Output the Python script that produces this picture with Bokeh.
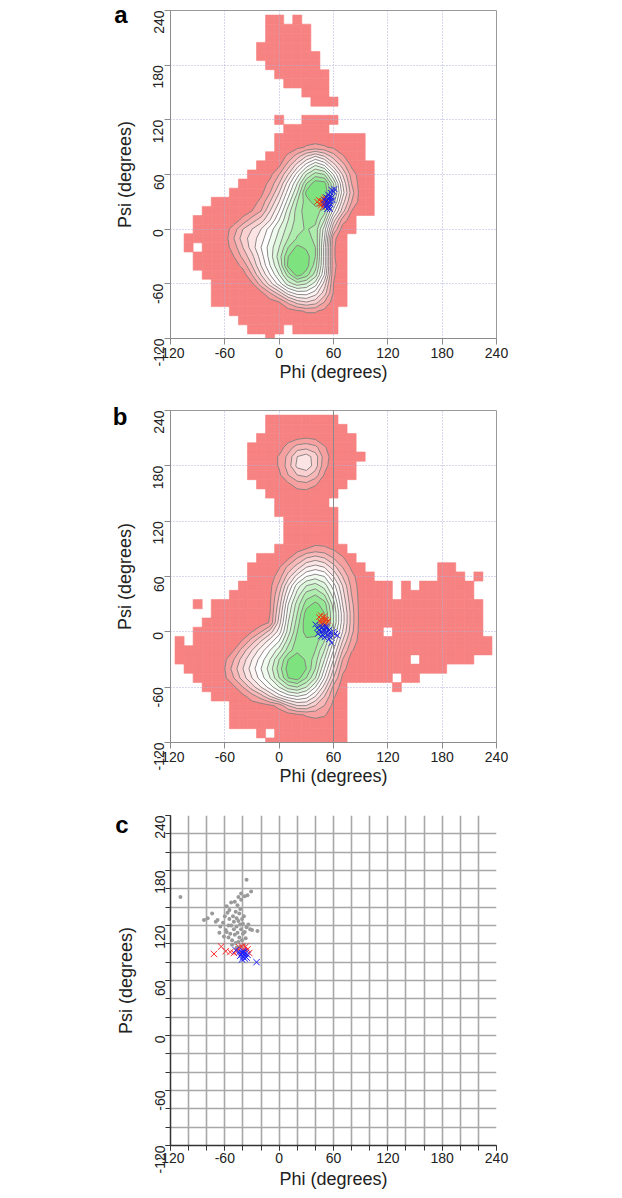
import math
import numpy as np
from bokeh.plotting import figure
from bokeh.models import FixedTicker, Span, LinearAxis, Range1d
from bokeh.layouts import column
from bokeh.embed import file_html
from bokeh.resources import INLINE

FONT = "Liberation Sans"
TICKS = [-120, -60, 0, 60, 120, 180, 240]
TICK_LABELS = {-120: "-120", -60: "-60", 0: "0", 60: "60", 120: "120", 180: "180", 240: "240"}
TICKS_20 = [-120, -100, -80, -60, -40, -20, 0, 20, 40, 60, 80, 100, 120, 140, 160, 180, 200, 220, 240]

RED_CELL = "#f78282"
BAND_COLORS = ["#f6a0a0", "#f8b8b8", "#fad0d0", "#fce4e4", "#fef4f4", "#ffffff",
               "#eefbee", "#dcf7dc", "#c6f2c6", "#aeedae", "#96e896", "#7ee27e"]
LEVELS = [0.5, 1.5, 2.5, 3.5, 4.5, 5.5, 6.5, 7.5, 8.5, 9.5, 10.5, 11.5, 20]

# ---- occupied 10-degree bins: (psi, phi_from, phi_to) ----
RUNS_A = [
    (230, -10, 0), (230, 20, 20),
    (220, -10, 30), (210, -10, 30), (200, -20, 30), (190, -20, 40),
    (180, -10, 40), (170, 0, 50), (160, 10, 50), (150, 30, 50), (140, 40, 60),
    (120, 0, 0), (120, 30, 60),
    (110, 10, 50), (100, 0, 90), (90, 0, 90), (80, -10, 90),
    (70, -20, 100), (60, -30, 100), (50, -40, 100), (40, -50, 100),
    (30, -70, 100), (20, -80, 100), (10, -90, 80), (0, -90, 80),
    (-10, -100, 70), (-20, -100, -100), (-20, -80, 70),
    (-30, -90, 70), (-40, -90, 70), (-50, -80, 70),
    (-60, -70, 70), (-70, -70, 70), (-80, -70, 70),
    (-90, -50, 60), (-100, -40, 60),
    (-110, -30, 0), (-110, 20, 60), (-120, -10, -10),
]

RUNS_B = [
    (230, -10, 60), (220, -10, 70), (210, -20, 80), (200, -30, 80),
    (190, -30, 90), (180, -30, 80), (170, -30, 80), (160, -20, 70),
    (150, -10, 60), (140, 0, 50), (130, 0, 60), (120, 10, 60),
    (110, 10, 60), (100, 10, 60), (90, 0, 70), (80, -20, 80),
    (70, -30, 90), (70, 180, 190),
    (60, -30, 100), (60, 180, 200), (60, 220, 220),
    (50, -40, 120), (50, 140, 140), (50, 160, 210),
    (40, -50, 120), (40, 140, 210),
    (30, -90, -90), (30, -70, 220),
    (20, -70, 220), (10, -80, 220),
    (0, -90, 110), (0, 130, 220),
    (-10, -110, -110), (-10, -90, 230),
    (-20, -110, 230),
    (-30, -110, 140), (-30, 160, 210),
    (-40, -100, 180),
    (-50, -90, 120), (-50, 140, 150),
    (-60, -80, 70), (-60, 130, 130),
    (-70, -70, 70), (-80, -50, 70), (-90, -50, 70), (-100, -50, 70),
    (-110, -20, -20), (-110, 0, 70), (-120, -10, 70),
]

# ---- density level grids (phi columns -70..100, psi rows 100..-100) ----
PHI_GRID = [-70, -60, -50, -40, -30, -20, -10, 0, 10, 20, 30, 40, 50, 60, 70, 80, 90, 100]
PSI_GRID = [100, 90, 80, 70, 60, 50, 40, 30, 20, 10, 0, -10, -20, -30, -40, -50, -60, -70, -80, -90, -100]

Z_A = [
    [0, 0, 0, 0, 0, 0, 0, 0, 0, 0, 0, 0, 0, 0, 0, 0, 0, 0],
    [0, 0, 0, 0, 0, 0, 0, 0, 0, 0.2, 0.6, 0.8, 0.6, 0.3, 0, 0, 0, 0],
    [0, 0, 0, 0, 0, 0, 0, 0, 0.7, 2, 3.5, 4.5, 3.5, 2, 0.6, 0, 0, 0],
    [0, 0, 0, 0, 0, 0, 0, 0.3, 2, 4, 6, 7.5, 6.5, 4, 2, 0.3, 0, 0],
    [0, 0, 0, 0, 0, 0, 0.2, 1.5, 3.5, 6, 8.5, 10, 9.5, 6.5, 3.5, 1, 0, 0],
    [0, 0, 0, 0, 0, 0, 0.8, 2.5, 5, 7.5, 10.5, 12.2, 12, 8.5, 4.5, 1.5, 0, 0],
    [0, 0, 0, 0, 0, 0.2, 1.5, 3.5, 6, 8.5, 11.8, 13, 12.5, 9, 5, 2, 0, 0],
    [0, 0, 0, 0, 0, 0.8, 2.5, 4.5, 7, 9.5, 11, 12, 12, 8, 4, 1.5, 0, 0],
    [0, 0, 0, 0, 0.5, 1.5, 3.5, 5.5, 8, 10, 11, 11, 10, 6, 3, 0.5, 0, 0],
    [0, 0, 0, 0.8, 2, 3, 4.5, 6.5, 8.5, 10, 10.8, 10.8, 8.5, 4, 1, 0, 0, 0],
    [0, 0, 1, 2.5, 3.5, 4.5, 6, 7.5, 9, 10.2, 10.6, 10.2, 7, 2.5, 0, 0, 0, 0],
    [0, 0, 1.5, 3, 4, 5, 6.5, 8, 9.5, 10.6, 10.8, 10.3, 6.5, 0.7, 0, 0, 0, 0],
    [0, 0, 1, 2.5, 4, 5.5, 7, 8.5, 10.5, 11.8, 11.3, 10.5, 6, 0.6, 0, 0, 0, 0],
    [0, 0, 0.5, 1.8, 3.2, 5, 7, 9, 11.5, 13, 12, 10.5, 6, 0.6, 0, 0, 0, 0],
    [0, 0, 0, 0.8, 2.5, 4.5, 6.5, 8.5, 11.8, 13, 12, 10, 6, 0.7, 0, 0, 0, 0],
    [0, 0, 0, 0, 1.5, 3.5, 5.5, 7.5, 10, 12, 11, 9, 5.5, 0.6, 0, 0, 0, 0],
    [0, 0, 0, 0, 0.3, 2, 4, 6, 8, 9, 8.5, 7, 4, 0.5, 0, 0, 0, 0],
    [0, 0, 0, 0, 0, 0.2, 1.5, 3, 5, 6, 6, 5, 3, 0.4, 0, 0, 0, 0],
    [0, 0, 0, 0, 0, 0, 0, 0.5, 1.8, 3, 3.5, 3, 1.5, 0, 0, 0, 0, 0],
    [0, 0, 0, 0, 0, 0, 0, 0, 0, 0.3, 0.6, 0.6, 0.2, 0, 0, 0, 0, 0],
    [0, 0, 0, 0, 0, 0, 0, 0, 0, 0, 0, 0, 0, 0, 0, 0, 0, 0],
]

Z_B = [
    [0, 0, 0, 0, 0, 0, 0, 0, 0, 0, 0, 0, 0, 0, 0, 0, 0, 0],
    [0, 0, 0, 0, 0, 0, 0, 0, 0, 0, 0.5, 0.8, 0.7, 0.4, 0, 0, 0, 0],
    [0, 0, 0, 0, 0, 0, 0, 0, 0.3, 1.5, 2.5, 3, 2.5, 1.5, 0.6, 0, 0, 0],
    [0, 0, 0, 0, 0, 0, 0, 0.4, 1.8, 3, 4.5, 5, 4.5, 3, 1.5, 0.3, 0, 0],
    [0, 0, 0, 0, 0, 0, 0, 1, 3, 5, 6.5, 7, 6.5, 4.5, 2.5, 0.8, 0, 0],
    [0, 0, 0, 0, 0, 0, 0.2, 1.8, 4.5, 7, 8.5, 9, 8, 6, 3.5, 1.2, 0, 0],
    [0, 0, 0, 0, 0, 0, 0.3, 2.5, 5.5, 8, 10, 10.5, 9.5, 7, 4, 1.5, 0, 0],
    [0, 0, 0, 0, 0, 0, 0.4, 3, 6.5, 9, 11, 11.8, 11, 8, 4.5, 1.8, 0, 0],
    [0, 0, 0, 0, 0, 0, 0.5, 3.5, 7, 9.5, 12, 12.5, 11.5, 8.5, 5, 2, 0, 0],
    [0, 0, 0, 0, 0, 0, 0.6, 4, 7.5, 10, 12.3, 12.8, 11.5, 8.5, 5, 2, 0, 0],
    [0, 0, 0, 0, 0.5, 1.5, 3, 5, 8, 10.5, 12, 12, 10.5, 7.5, 4.5, 1.8, 0, 0],
    [0, 0, 0, 0.6, 2, 3.5, 5, 6.5, 9, 11, 11.2, 11, 9.5, 6.5, 3.5, 1.2, 0, 0],
    [0, 0, 0.5, 2, 3.5, 5, 6.5, 8, 10, 11.2, 11.2, 10.5, 8.5, 5.5, 2.5, 0.6, 0, 0],
    [0, 0.3, 1.5, 3, 4.5, 6, 7.5, 9.5, 11.5, 12.3, 11.3, 10, 7.5, 4.5, 1.5, 0, 0, 0],
    [0, 0.5, 2, 3.5, 5, 6.5, 8, 10, 12, 12.5, 11.5, 9.5, 6.5, 3.5, 0.8, 0, 0, 0],
    [0, 0.3, 1.5, 3, 4.5, 6, 7.5, 9.5, 11.5, 12, 10.5, 8.5, 5.5, 2.5, 0.3, 0, 0, 0],
    [0, 0, 0.3, 1.5, 3, 4.5, 6, 7.5, 9, 9.5, 8.5, 6.5, 4, 1.2, 0, 0, 0, 0],
    [0, 0, 0, 0.2, 1, 2, 3.5, 5, 6, 6.5, 6, 4.5, 2.5, 0.6, 0, 0, 0, 0],
    [0, 0, 0, 0, 0, 0, 0.3, 0.8, 2.5, 3.5, 3.5, 2.5, 1.5, 0.2, 0, 0, 0, 0],
    [0, 0, 0, 0, 0, 0, 0, 0, 0, 0.3, 0.6, 0.8, 0.6, 0, 0, 0, 0, 0],
    [0, 0, 0, 0, 0, 0, 0, 0, 0, 0, 0, 0, 0, 0, 0, 0, 0, 0],
]

PHI_BUMP = [-10, 0, 10, 20, 30, 40, 50, 60]
PSI_BUMP = [220, 210, 200, 190, 180, 170, 160, 150]
Z_BUMP = [
    [0, 0, 0, 0, 0, 0, 0, 0],
    [0, 0, 0, 0.3, 0.5, 0.3, 0, 0],
    [0, 0, 1, 2, 2.2, 1.8, 0.6, 0],
    [0, 0.6, 1.8, 3.5, 4, 3, 1, 0],
    [0, 0.6, 2, 3.8, 4.2, 3, 0.8, 0],
    [0, 0.3, 1.5, 2.5, 2.8, 2, 0.4, 0],
    [0, 0, 0.3, 1, 1.2, 0.6, 0, 0],
    [0, 0, 0, 0, 0, 0, 0, 0],
]

# ---- structures (X markers) ----
RED_A_PHI = [42, 44, 45, 47, 48, 49, 50, 51, 52, 53, 46, 50, 54, 48]
RED_A_PSI = [30, 32, 28, 31, 29, 33, 27, 30, 32, 28, 26, 35, 30, 24]
BLUE_A_PHI = [50, 52, 53, 54, 55, 56, 57, 58, 55, 53, 51, 56, 58, 60, 54, 52, 57, 59, 53, 55, 50, 56, 61, 54]
BLUE_A_PSI = [28, 30, 26, 33, 29, 36, 40, 43, 24, 22, 25, 31, 35, 41, 38, 35, 27, 32, 31, 34, 32, 22, 44, 27]

RED_B_PHI = [44, 46, 47, 48, 49, 50, 51, 52, 53, 45, 48, 50, 46, 54]
RED_B_PSI = [16, 18, 13, 15, 11, 17, 9, 13, 10, 12, 8, 14, 10, 12]
BLUE_B_PHI = [40, 42, 44, 45, 47, 48, 49, 50, 51, 52, 53, 54, 55, 56, 57, 58, 60, 62, 64, 58, 43, 46, 50, 52, 55, 48]
BLUE_B_PSI = [8, 4, 2, 6, 0, -3, 3, 1, -2, 4, 0, -4, 2, -1, -6, -3, 0, -2, -4, -12, -2, -5, -6, 6, -8, 5]

GRAY_C_PHI = [-109, -36, -31, -24, -83, -79, -74, -70, -68, -65, -62, -61, -59, -58, -57, -56,
              -55, -55, -54, -53, -53, -52, -51, -50, -50, -49, -49, -48, -48, -47, -47, -46,
              -46, -45, -45, -45, -44, -44, -43, -43, -42, -42, -41, -41, -40, -40, -39, -39,
              -38, -37, -36, -35, -34, -32, -30, -42, -38, -58, -60, -66, -52, -56, -47, -43]
GRAY_C_PSI = [151, 170, 157, 114, 126, 128, 133, 124, 126, 119, 123, 108, 115, 141, 134, 107,
              127, 137, 111, 120, 145, 104, 130, 116, 124, 110, 146, 135, 101, 128, 119, 112,
              142, 151, 125, 102, 133, 107, 121, 138, 116, 148, 104, 127, 122, 111, 130, 99,
              113, 106, 118, 153, 121, 116, 115, 155, 152, 113, 130, 112, 99, 120, 96, 97]
RED_C_PHI = [-72, -64, -59, -54, -50, -46, -44, -41, -39, -37, -35, -33, -42]
RED_C_PSI = [89, 97, 92, 91, 90, 92, 96, 97, 92, 97, 94, 90, 91]
BLUE_C_PHI = [-48, -44, -42, -41, -40, -39, -38, -37, -36, -40, -43, -38, -35, -25, -41, -39]
BLUE_C_PSI = [93, 91, 88, 90, 86, 89, 87, 90, 85, 92, 87, 84, 88, 80, 83, 91]

PANEL_LETTERS = ["a", "b", "c"]
LETTER_POS = [991, 985, 1000]   # position of the letter along a 0..1000 helper scale (top = 1000)


def expand(runs):
    xs, ys = [], []
    for psi, a, b in runs:
        for phi in range(a, b + 1, 10):
            xs.append(phi)
            ys.append(psi)
    return xs, ys


def style_axes(p, color, label_color, tick_out):
    for ax in (p.xaxis[0], p.yaxis[0]):
        ax.axis_line_color = color
        ax.major_tick_line_color = color
        ax.major_tick_out = tick_out
        ax.major_tick_in = 0
        ax.major_label_text_font = FONT
        ax.major_label_text_font_size = "14px"
        ax.major_label_text_color = label_color
        ax.major_label_standoff = 3
        ax.major_label_overrides = TICK_LABELS
        ax.axis_label_text_font = FONT
        ax.axis_label_text_font_size = "18px"
        ax.axis_label_text_font_style = "normal"
        ax.axis_label_text_color = label_color
    p.xaxis.axis_label_standoff = 1
    p.yaxis.major_label_standoff = 6
    p.yaxis.axis_label_standoff = 11
    p.xaxis.axis_label = "Phi (degrees)"
    p.yaxis.axis_label = "Psi (degrees)"
    p.yaxis.major_label_orientation = math.pi / 2


def add_letter(p, letter, pos):
    p.extra_y_ranges = {"letter": Range1d(0, 1000)}
    ax = LinearAxis(y_range_name="letter", ticker=FixedTicker(ticks=[pos]),
                    major_label_overrides={pos: letter})
    ax.axis_line_color = None
    ax.major_tick_line_color = None
    ax.minor_tick_line_color = None
    ax.major_tick_out = 0
    ax.major_tick_in = 0
    ax.major_label_standoff = -16
    ax.major_label_orientation = "horizontal"
    ax.major_label_text_font = FONT
    ax.major_label_text_font_size = "24px"
    ax.major_label_text_font_style = "bold"
    ax.major_label_text_color = "black"
    p.add_layout(ax, "left")


def make_fig(height, top, bottom, left, frame_w):
    width = 620
    p = figure(width=width, height=height, x_range=(-120, 240), y_range=(-120, 240),
               output_backend="svg", toolbar_location=None,
               min_border_left=left, min_border_right=width - left - frame_w,
               min_border_top=top, min_border_bottom=bottom)
    return p


def density_panel(height, top, bottom, runs, grids, vline=False):
    p = make_fig(height, top, bottom, 170, 327)
    style_axes(p, "#8c8c8c", "#222222", 6)
    for ax in (p.xaxis[0], p.yaxis[0]):
        ax.ticker = FixedTicker(ticks=TICKS)
        ax.minor_tick_line_color = None
    p.outline_line_color = "#9a9a9a"
    p.grid.grid_line_color = "#b0b0d8"
    p.grid.grid_line_dash = "1 2"
    p.grid.grid_line_width = 1

    cx, cy = expand(runs)
    p.rect(x=cx, y=cy, width=10, height=10, fill_color=RED_CELL, line_color=RED_CELL,
           line_width=0.6, level="image")

    for xg, yg, zg in grids:
        z = np.flipud(np.array(zg, dtype=float))
        y = np.array(yg[::-1], dtype=float)
        x = np.array(xg, dtype=float)
        p.contour(x, y, z, LEVELS, fill_color=BAND_COLORS, line_color="#808080", line_width=0.9)

    if vline:
        p.add_layout(Span(location=60, dimension="height", line_color="#8a8a8a",
                          line_width=1, level="overlay"))
    return p


# layout (page px): fig a 0..402 (frame 10..338), fig b 402..806 (frame 410..742),
# fig c 806..1196 (frame 815..1145)
pa = density_panel(402, 10, 64, RUNS_A, [(PHI_GRID, PSI_GRID, Z_A)])
pa.scatter(RED_A_PHI, RED_A_PSI, marker="x", size=8, line_color="#f03a12", line_width=1)
pa.scatter(BLUE_A_PHI, BLUE_A_PSI, marker="x", size=8, line_color="#1a1ae6", line_width=1)
add_letter(pa, PANEL_LETTERS[0], LETTER_POS[0])

pb = density_panel(404, 8, 64, RUNS_B, [(PHI_GRID, PSI_GRID, Z_B), (PHI_BUMP, PSI_BUMP, Z_BUMP)],
                   vline=True)
pb.scatter(RED_B_PHI, RED_B_PSI, marker="x", size=8, line_color="#f03a12", line_width=1)
pb.scatter(BLUE_B_PHI, BLUE_B_PSI, marker="x", size=8, line_color="#1a1ae6", line_width=1)
add_letter(pb, PANEL_LETTERS[1], LETTER_POS[1])

# panel c
pc = make_fig(390, 9, 51, 168, 328)
style_axes(pc, "#333333", "#222222", 5)
for ax in (pc.xaxis[0], pc.yaxis[0]):
    ax.ticker = FixedTicker(ticks=TICKS, minor_ticks=TICKS_20)
    ax.minor_tick_line_color = "#333333"
    ax.minor_tick_out = 5
    ax.minor_tick_in = 0
    ax.axis_line_width = 1.5
pc.xaxis.major_label_standoff = 2
pc.xaxis.axis_label_standoff = 3
pc.xgrid.ticker = FixedTicker(ticks=TICKS_20)
pc.ygrid.ticker = FixedTicker(ticks=TICKS_20)
pc.grid.grid_line_color = "#a8a8a8"
pc.grid.grid_line_width = 1.6
pc.outline_line_color = None
pc.scatter(GRAY_C_PHI, GRAY_C_PSI, marker="circle", size=4, fill_color="#9a9a9a", line_color=None)
pc.scatter(RED_C_PHI, RED_C_PSI, marker="x", size=9, line_color="#ff2a2a", line_width=1)
pc.scatter(BLUE_C_PHI, BLUE_C_PSI, marker="x", size=9, line_color="#2020ff", line_width=1)
add_letter(pc, PANEL_LETTERS[2], LETTER_POS[2])

layout = column(pa, pb, pc, spacing=0)
open("out.html", "w").write(file_html(layout, INLINE))
